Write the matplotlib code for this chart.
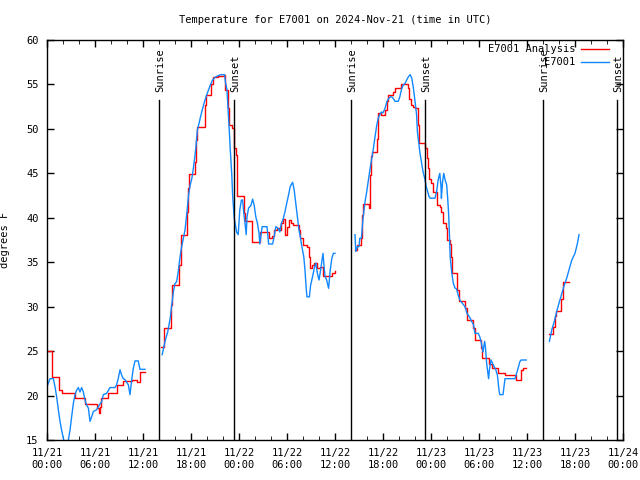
from matplotlib import pyplot as plt
from matplotlib.lines import Line2D
import numpy as np

plt.rcParams['font.family'] = 'DejaVu Sans Mono'
plt.rcParams['font.size'] = 7.5

# hours since 2024-11-21 00:00 UTC
sunrise = [14.0, 38.0, 62.0]
sunset = [23.4, 47.25, 71.25]

# E7001 Analysis (red), one list per run
ana_t1 = [0.0, 0.6, 1.55, 1.85, 3.5, 4.75, 6.3, 6.45, 6.6, 6.8, 7.65, 8.7, 9.5, 10.6, 11.2, 11.6, 12.25]
ana_v1 = [25.0, 22.1, 20.6, 20.25, 19.7, 19.1, 18.6, 18.0, 18.75, 19.7, 20.3, 21.2, 21.6, 21.7, 21.5, 22.6, 22.6]

ana_t2 = [14.3, 14.6, 15.5, 15.65, 16.5, 16.75, 17.5, 17.6, 17.7, 18.5, 18.6, 18.8, 19.75, 19.9,
          20.5, 20.8, 21.4, 22.1, 22.3, 22.6, 22.75, 23.1, 23.4, 23.6, 23.7, 23.8, 24.6, 24.7, 25.6,
          26.6, 27.8, 28.1, 28.4, 28.7, 29.1, 29.3, 29.5, 29.75, 29.96, 30.2, 30.5, 30.8, 31.5, 31.6,
          32.0, 32.5, 32.7, 32.9, 33.1, 33.4, 33.7, 34.1, 34.5, 35.6, 36.0]
ana_v2 = [25.5, 27.6, 30.2, 32.4, 34.7, 38.1, 40.7, 43.3, 44.9, 46.3, 48.75, 50.2, 52.7, 53.8,
          55.1, 55.8, 56.0, 56.1, 54.4, 52.3, 50.4, 50.1, 47.8, 47.1, 44.8, 42.4, 40.5, 39.6, 37.3,
          38.4, 37.7, 37.9, 38.6, 38.8, 38.6, 39.4, 39.9, 38.1, 39.0, 39.75, 39.4, 39.2, 38.6, 37.7,
          36.9, 36.75, 35.6, 34.3, 34.7, 34.9, 34.3, 34.5, 33.4, 33.8, 34.05]

ana_t3 = [38.55, 38.7, 39.2, 39.4, 39.5, 40.2, 40.4, 40.5, 40.6, 41.25, 41.4, 41.8, 42.2, 42.5, 42.6,
          43.3, 43.5, 44.2, 45.1, 45.3, 45.5, 45.8, 46.0, 46.4, 46.5, 47.3, 47.45, 47.6, 47.75, 47.95,
          48.2, 48.3, 48.7, 48.8, 49.1, 49.3, 49.5, 49.9, 50.0, 50.4, 50.5, 50.6, 51.3, 51.5, 52.3,
          52.5, 53.2, 53.5, 54.2, 54.4, 55.3, 55.6, 56.35, 57.3, 58.6, 59.25, 59.5, 59.9]
ana_v3 = [36.4, 36.9, 37.7, 40.3, 41.6, 41.1, 44.8, 46.9, 47.4, 48.9, 51.8, 51.6, 52.1, 53.1, 53.8,
          54.2, 54.6, 55.1, 54.6, 53.4, 52.7, 52.5, 52.3, 50.4, 48.4, 47.8, 46.7, 45.6, 44.4, 43.9,
          43.7, 42.9, 42.8, 41.4, 41.25, 40.7, 39.4, 38.8, 37.5, 37.1, 35.6, 33.75, 31.9, 30.6, 29.8,
          28.5, 27.6, 26.3, 25.3, 24.2, 23.6, 23.1, 22.5, 22.3, 21.8, 22.9, 23.1, 23.1]

ana_t4 = [62.8, 63.3, 63.5, 63.6, 64.3, 64.45, 64.55, 65.3]
ana_v4 = [26.9, 27.75, 28.9, 29.55, 30.9, 31.9, 32.8, 32.8]

# E7001 observations (blue)
obs_t1 = [0.0, 0.375, 0.79, 1.0, 1.2, 1.42, 1.625, 1.83, 2.04, 2.25, 2.46, 2.67, 2.875, 3.08, 3.29,
          3.5, 3.7, 3.92, 4.125, 4.33, 4.54, 4.75, 4.96, 5.17, 5.375, 5.58, 5.79, 6.2, 6.625, 6.83,
          7.04, 7.46, 7.875, 8.5, 8.7, 8.9, 9.125, 9.33, 9.54, 9.75, 10.17, 10.375, 10.58, 10.79,
          11.0, 11.4, 11.625, 12.25]
obs_v1 = [21.0, 21.9, 21.9, 21.0, 19.9, 18.4, 17.1, 16.1, 15.2, 14.4, 14.4, 15.0, 16.1, 17.6, 19.1,
          20.1, 20.6, 20.9, 20.4, 20.9, 20.4, 19.5, 18.9, 18.6, 17.1, 17.6, 18.2, 18.4, 19.05, 19.3,
          20.1, 20.25, 20.9, 20.9, 21.2, 21.9, 22.9, 22.3, 21.9, 21.8, 21.2, 20.1, 21.75, 23.06,
          23.9, 23.9, 22.95, 22.95]

obs_t2 = [14.4, 14.75, 15.1, 15.4, 15.6, 15.8, 16.0, 16.2, 16.4, 16.6, 16.8, 17.0, 17.25, 17.5, 17.7,
          17.9, 18.1, 18.3, 18.4, 18.6, 18.8, 19.0, 19.2, 19.4, 19.7, 19.95, 20.2, 20.4, 20.7, 21.0,
          21.4, 21.8, 22.2, 22.3, 22.5, 22.6, 22.75, 22.9, 23.1, 23.2, 23.4, 23.7, 23.9, 24.1, 24.3,
          24.45, 24.6, 24.75, 24.9, 25.0, 25.2, 25.5, 25.7, 25.9, 26.1, 26.3, 26.5, 26.6, 26.8, 26.9,
          27.5, 27.6, 27.7, 28.2, 28.4, 28.6, 28.9, 29.1, 29.3, 29.5, 29.75, 29.96, 30.2, 30.4, 30.7,
          30.9, 31.1, 31.3, 31.5, 31.7, 31.8, 32.1, 32.25, 32.4, 32.5, 32.8, 32.95, 33.2, 33.4, 33.6,
          33.8, 34.0, 34.2, 34.5, 34.6, 34.75, 34.96, 35.2, 35.4, 35.6, 35.8, 36.0]
obs_v2 = [24.6, 26.1, 27.2, 28.7, 30.2, 31.7, 32.6, 32.8, 33.9, 35.4, 36.6, 37.5, 38.6, 40.7, 42.6,
          43.7, 44.4, 45.6, 46.3, 47.8, 49.9, 50.6, 51.4, 52.1, 53.1, 53.8, 54.4, 54.9, 55.5, 55.8,
          56.0, 56.1, 56.1, 55.3, 54.4, 52.7, 50.4, 47.8, 44.8, 42.6, 40.0, 38.4, 38.1, 40.9, 42.0,
          42.0, 40.5, 39.4, 38.1, 40.1, 41.1, 41.4, 42.1, 41.4, 40.1, 39.4, 38.3, 37.05, 38.4, 39.0,
          39.0, 38.06, 37.05, 37.05, 37.9, 39.0, 38.8, 38.4, 39.4, 39.8, 40.7, 41.6, 42.6, 43.5, 44.0,
          43.1, 41.6, 40.1, 38.6, 37.7, 37.05, 35.6, 34.1, 32.06, 31.1, 31.1, 32.4, 33.4, 34.3, 34.9,
          33.75, 33.0, 34.1, 36.0, 34.9, 33.4, 33.0, 32.06, 34.1, 35.4, 36.0, 36.0]

obs_t3 = [38.5, 38.6, 38.8, 39.0, 39.1, 39.3, 39.5, 39.75, 39.96, 40.2, 40.4, 40.6, 40.8, 41.0, 41.2,
          41.4, 41.6, 41.8, 42.0, 42.25, 42.5, 42.7, 42.9, 43.1, 43.3, 43.5, 43.9, 44.1, 44.3, 44.5,
          44.75, 44.96, 45.2, 45.4, 45.6, 45.8, 46.0, 46.2, 46.3, 46.5, 46.6, 46.8, 47.0, 47.25, 47.4,
          47.6, 47.75, 47.9, 48.5, 48.7, 48.9, 49.1, 49.25, 49.3, 49.45, 49.6, 49.75, 49.96, 50.1,
          50.2, 50.3, 50.4, 50.6, 50.8, 51.0, 51.2, 51.4, 51.6, 51.9, 52.25, 52.5, 52.7, 52.9, 53.1,
          53.3, 53.5, 53.9, 54.1, 54.3, 54.5, 54.7, 54.8, 54.96, 55.2, 55.3, 55.5, 55.7, 55.9, 56.1,
          56.3, 56.5, 56.6, 57.0, 57.25, 58.5, 58.7, 58.9, 59.1, 59.25, 59.9]
obs_v3 = [38.1, 36.2, 36.75, 36.75, 37.7, 37.7, 39.9, 41.8, 42.9, 44.4, 45.6, 46.7, 47.8, 49.1, 50.3,
          51.2, 51.6, 51.9, 51.8, 52.3, 53.1, 53.4, 53.6, 53.6, 53.4, 53.1, 53.1, 53.6, 54.4, 54.9,
          55.1, 55.5, 55.9, 56.1, 55.7, 54.6, 53.1, 51.6, 49.7, 48.2, 47.4, 46.3, 45.2, 44.3, 43.5,
          42.9, 42.4, 42.2, 42.2, 42.9, 44.3, 45.0, 43.5, 42.2, 44.1, 45.0, 44.3, 43.7, 42.0,
          40.5, 38.25, 35.6, 33.75, 32.6, 32.1, 32.0, 31.3, 30.75, 30.4, 30.0, 29.25, 29.0, 28.7, 28.3,
          28.0, 27.0, 27.0, 26.6, 25.9, 24.9, 26.1, 25.5, 23.6, 21.9, 22.9, 24.0, 23.6, 23.25, 22.9,
          22.3, 20.6, 20.1, 20.1, 21.9, 21.9, 22.5, 23.1, 23.8, 24.0, 24.0]

obs_t4 = [62.8, 63.1, 63.4, 63.7, 64.0, 64.3, 64.6, 64.96, 65.3, 65.6, 66.0, 66.3, 66.5]
obs_v4 = [26.1, 27.4, 28.3, 29.4, 30.4, 31.3, 32.25, 33.2, 34.3, 35.25, 36.0, 37.1, 38.1]

tick_hours = [0, 6, 12, 18, 24, 30, 36, 42, 48, 54, 60, 66, 72]
tick_labels = ['11/21\n00:00', '11/21\n06:00', '11/21\n12:00', '11/21\n18:00',
               '11/22\n00:00', '11/22\n06:00', '11/22\n12:00', '11/22\n18:00',
               '11/23\n00:00', '11/23\n06:00', '11/23\n12:00', '11/23\n18:00',
               '11/24\n00:00']

red = '#ff0000'
blue = '#1188ff'

fig = plt.figure(figsize=(6.4, 4.8), dpi=100)
ax = fig.add_axes([47/640, 40/480, 576/640, 400/480])

for t, v in [(ana_t1, ana_v1), (ana_t2, ana_v2), (ana_t3, ana_v3), (ana_t4, ana_v4)]:
    ax.plot(t, v, color=red, lw=1.0, drawstyle='steps-post')
for t, v in [(obs_t1, obs_v1), (obs_t2, obs_v2), (obs_t3, obs_v3), (obs_t4, obs_v4)]:
    ax.plot(t, v, color=blue, lw=1.0)

trans = ax.get_xaxis_transform()
for name, hrs in [('Sunrise', sunrise), ('Sunset', sunset)]:
    for h in hrs:
        ax.plot([h, h], [0, 0.85], color='black', lw=1.0, transform=trans)
        ax.text(h + 0.15, 0.87, name, rotation=90, ha='center', va='bottom', transform=trans)

ax.set_xlim(0, 72)
ax.set_ylim(15, 60)
ax.set_xticks(tick_hours)
ax.set_xticklabels(tick_labels)
ax.set_xticks(np.arange(0, 73, 2), minor=True)
ax.set_yticks(np.arange(15, 61, 5))
ax.tick_params(direction='in', length=5, top=True, right=True, width=1)
ax.tick_params(which='minor', direction='in', length=3, top=True, right=False)
ax.tick_params(axis='x', pad=6)
ax.tick_params(axis='y', pad=6)
for s in ax.spines.values():
    s.set_linewidth(1.0)

ax.set_ylabel('degrees F', labelpad=12)
fig.text(335/640, 1 - 20/480, 'Temperature for E7001 on 2024-Nov-21 (time in UTC)',
         ha='center', va='center')

# key, top right
ax.text(0.917, 0.9775, 'E7001 Analysis', ha='right', va='center', transform=ax.transAxes)
ax.text(0.917, 0.945, 'E7001', ha='right', va='center', transform=ax.transAxes)
ax.add_line(Line2D([0.927, 0.976], [0.9775, 0.9775], color=red, lw=1.0, transform=ax.transAxes))
ax.add_line(Line2D([0.927, 0.976], [0.945, 0.945], color=blue, lw=1.0, transform=ax.transAxes))

fig.savefig('out.png', dpi=100)
